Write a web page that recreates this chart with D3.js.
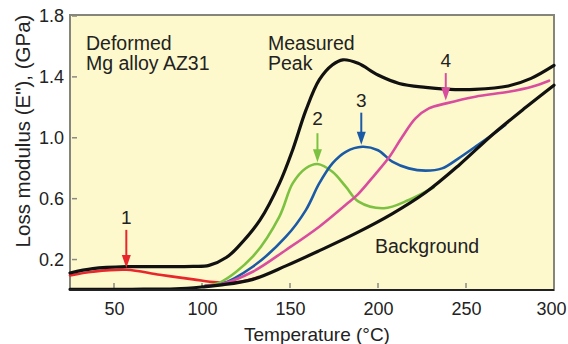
<!DOCTYPE html>
<html><head><meta charset="utf-8">
<script src="https://cdn.jsdelivr.net/npm/d3@7/dist/d3.min.js"></script>
<style>
html,body{margin:0;padding:0;background:#fff;}
svg{display:block;font-family:"Liberation Sans",Arial,Helvetica,sans-serif;}
</style></head>
<body><svg id="c" width="568" height="344"></svg>
<script>
// ---- data (temperature °C, loss modulus GPa) ----
const measuredT = [25, 38, 57, 78, 95, 104, 114, 121, 133, 144, 151.5, 159, 166.6, 174, 180, 188.7, 200, 212, 227, 238, 255, 274, 287, 300];
const measuredE = [0.112, 0.14, 0.153, 0.153, 0.155, 0.162, 0.215, 0.29, 0.46, 0.70, 0.92, 1.18, 1.38, 1.478, 1.512, 1.489, 1.412, 1.357, 1.331, 1.32, 1.318, 1.34, 1.39, 1.475];

const backgroundT = [25, 60, 85, 100, 110, 129, 148, 167, 187, 208, 227, 246, 265, 284, 300];
const backgroundE = [0.005, 0.005, 0.008, 0.02, 0.032, 0.07, 0.16, 0.26, 0.37, 0.50, 0.64, 0.82, 1.02, 1.20, 1.345];

const peak1T = [25, 38, 57, 76, 95, 108, 120, 132];
const peak1E = [0.096, 0.12, 0.133, 0.1, 0.07, 0.05, 0.05, 0.085];

const peak2T = [102, 110, 128.8, 143.9, 151.5, 159, 165.6, 174.1, 181.7, 189, 203.4, 217.5, 231.7];
const peak2E = [0.03, 0.048, 0.219, 0.481, 0.70, 0.80, 0.828, 0.777, 0.679, 0.58, 0.537, 0.591, 0.675];

const peak3T = [102, 110, 128.8, 147.7, 159, 166.6, 174.1, 181.7, 191.1, 200, 208.1, 217.5, 227, 236.4, 245.8, 255.3, 264.7, 272.3];
const peak3E = [0.028, 0.035, 0.153, 0.35, 0.525, 0.70, 0.832, 0.908, 0.941, 0.918, 0.843, 0.799, 0.784, 0.799, 0.865, 0.941, 1.018, 1.084];

const peak4T = [102, 110, 128.8, 147.7, 166.6, 181.7, 188.7, 198.4, 206.2, 213.8, 221.3, 228.9, 238.7, 255.3, 274.2, 287.4, 297.2];
const peak4E = [0.028, 0.035, 0.12, 0.263, 0.416, 0.56, 0.63, 0.76, 0.87, 1.007, 1.128, 1.193, 1.226, 1.27, 1.302, 1.335, 1.375];

const arrowLabels = ["1", "2", "3", "4"];
const arrowT = [57, 165.6, 190.5, 238.5];
const arrowTipE = [0.145, 0.84, 0.955, 1.245];
const arrowTopE = [0.395, 1.03, 1.165, 1.425];
const arrowLabelE = [0.48, 1.13, 1.25, 1.51];
const arrowColors = ["#e8262c", "#7cc142", "#1b5aa6", "#d94d9f"];

const xTicks = [50, 100, 150, 200, 250, 300];
const yTicks = [0.2, 0.6, 1.0, 1.4, 1.8];

// ---- drawing ----
const svg = d3.select("#c");
const x = d3.scaleLinear().domain([25, 300]).range([70, 554]);
const y = d3.scaleLinear().domain([0, 1.8]).range([290, 16]);

svg.append("rect").attr("x", 70).attr("y", 15).attr("width", 484).attr("height", 275)
  .attr("fill", "#fef9cc").attr("stroke", "#85857a").attr("stroke-width", 2);

// inner ticks
svg.append("g").selectAll("line").data(yTicks).join("line")
  .attr("x1", 72).attr("x2", 77).attr("y1", d => y(d)).attr("y2", d => y(d))
  .attr("stroke", "#8a8a80").attr("stroke-width", 1.5);
svg.append("g").selectAll("line").data(xTicks.slice(0, 5)).join("line")
  .attr("x1", d => x(d)).attr("x2", d => x(d)).attr("y1", 288).attr("y2", 283)
  .attr("stroke", "#8a8a80").attr("stroke-width", 1.5);

// axes labels via d3 axes (no domain/ticks lines)
const xAxis = svg.append("g").attr("transform", "translate(0,290)")
  .call(d3.axisBottom(x).tickValues(xTicks).tickFormat(d3.format("d")).tickSize(0).tickPadding(8));
const yAxis = svg.append("g").attr("transform", "translate(70,0)")
  .call(d3.axisLeft(y).tickValues(yTicks).tickFormat(d3.format(".1f")).tickSize(0).tickPadding(6));
[xAxis, yAxis].forEach(a => {
  a.select(".domain").remove();
  a.selectAll("text").attr("font-size", 18).attr("fill", "#222")
    .attr("font-family", "'Liberation Sans',Arial,sans-serif");
});
xAxis.selectAll("text").attr("dy", "0.95em").attr("dx", d => d === 300 ? -3 : 0);

const line = (T, E) => d3.line().x((d, i) => x(T[i])).y((d, i) => y(E[i])).curve(d3.curveCatmullRom.alpha(0.5))(T);

const series = [
  [peak1T, peak1E, arrowColors[0], 2.6],
  [peak2T, peak2E, arrowColors[1], 2.6],
  [peak3T, peak3E, arrowColors[2], 2.6],
  [peak4T, peak4E, arrowColors[3], 2.6],
  [measuredT, measuredE, "#111", 3.2],
  [backgroundT, backgroundE, "#111", 3.2]
];
series.forEach(([T, E, c, w]) => {
  svg.append("path").attr("d", line(T, E)).attr("fill", "none")
    .attr("stroke", c).attr("stroke-width", w).attr("stroke-linejoin", "round").attr("stroke-linecap", "round");
});

svg.append("line").attr("x1", 70).attr("x2", 554).attr("y1", 290).attr("y2", 290)
  .attr("stroke", "#222").attr("stroke-width", 2.2);

// arrows
arrowLabels.forEach((lab, i) => {
  const ax = x(arrowT[i]), tip = y(arrowTipE[i]), top = y(arrowTopE[i]);
  const c = arrowColors[i];
  svg.append("line").attr("x1", ax).attr("x2", ax).attr("y1", top).attr("y2", tip - 8)
    .attr("stroke", c).attr("stroke-width", 2);
  svg.append("path").attr("d", `M${ax - 4.5},${tip - 13} L${ax + 4.5},${tip - 13} L${ax},${tip} Z`).attr("fill", c);
  svg.append("text").attr("x", ax).attr("y", y(arrowLabelE[i]) + 7).attr("text-anchor", "middle")
    .attr("font-size", 19).attr("fill", "#222").text(lab);
});

// annotations
const ann = [["Deformed", 86, 50], ["Mg alloy AZ31", 86, 70], ["Measured", 268, 50], ["Peak", 268, 70], ["Background", 375, 253]];
ann.forEach(([t, tx, ty]) => svg.append("text").attr("x", tx).attr("y", ty).attr("font-size", 19.5).attr("fill", "#222").text(t));

svg.append("text").attr("x", 317).attr("y", 341).attr("text-anchor", "middle").attr("font-size", 19).attr("fill", "#222").text("Temperature (°C)");
svg.append("text").attr("transform", "translate(30,131) rotate(-90)").attr("text-anchor", "middle").attr("font-size", 20.5).attr("fill", "#222").text('Loss modulus (E"), (GPa)');
</script></body></html>
